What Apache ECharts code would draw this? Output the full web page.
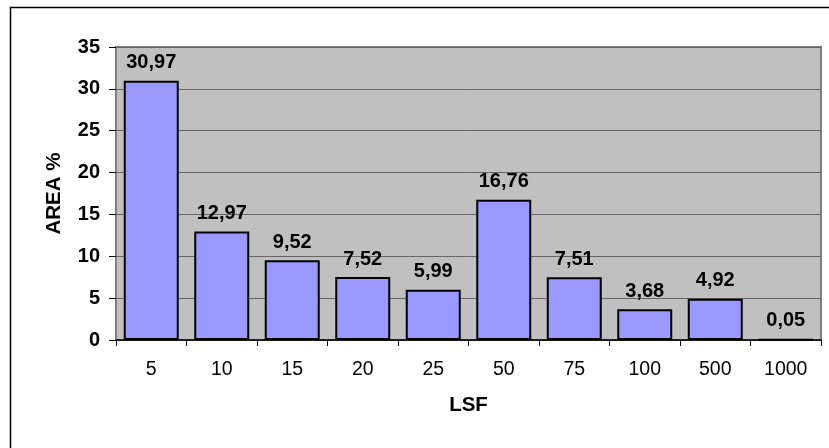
<!DOCTYPE html>
<html>
<head>
<meta charset="utf-8">
<script src="https://cdn.jsdelivr.net/npm/echarts@6/dist/echarts.min.js"></script>
<style>
  html, body { margin: 0; padding: 0; background: #fff; }
  #chart { width: 829px; height: 448px; }
</style>
</head>
<body>
<div id="chart"></div>
<script>
// LSF classes and the share of area (%) in each class
const categories = ['5', '10', '15', '20', '25', '50', '75', '100', '500', '1000'];
const areaPct = [30.97, 12.97, 9.52, 7.52, 5.99, 16.76, 7.51, 3.68, 4.92, 0.05];
const yTicks = { min: 0, max: 35, interval: 5 };

const chart = echarts.init(document.getElementById('chart'), null, { renderer: 'canvas' });

const font = 'Arial, "Liberation Sans", sans-serif';

chart.setOption({
  animation: false,
  backgroundColor: '#ffffff',
  graphic: [{
    type: 'rect',
    shape: { x: 10.5, y: 7.5, width: 1000, height: 1000 },
    style: { fill: 'none', stroke: '#000', lineWidth: 1.5 },
    silent: true
  }],
  grid: {
    left: 116, right: 8, top: 47, bottom: 108,
    show: true,
    backgroundColor: '#C0C0C0',
    borderColor: '#808080',
    borderWidth: 2
  },
  xAxis: {
    type: 'category',
    data: categories,
    name: 'LSF',
    nameLocation: 'middle',
    nameGap: 55,
    nameTextStyle: { fontFamily: font, fontSize: 20.5, fontWeight: 'bold', color: '#000' },
    axisLine: { show: true, lineStyle: { color: '#000', width: 1.5 } },
    axisTick: { show: true, alignWithLabel: false, length: 6, lineStyle: { color: '#000' } },
    axisLabel: { fontFamily: font, fontSize: 19.5, color: '#000', margin: 20 },
    splitLine: { show: false }
  },
  yAxis: {
    type: 'value',
    min: yTicks.min, max: yTicks.max, interval: yTicks.interval,
    name: 'AREA %',
    nameLocation: 'middle',
    nameGap: 51,
    nameRotate: 90,
    nameTextStyle: { fontFamily: font, fontSize: 20.5, fontWeight: 'bold', color: '#000' },
    axisLine: { show: true, lineStyle: { color: '#808080', width: 2 } },
    axisTick: { show: true, length: 7, lineStyle: { color: '#000' } },
    axisLabel: { fontFamily: font, fontSize: 20, fontWeight: 'bold', color: '#000', margin: 16 },
    splitLine: { show: true, lineStyle: { color: '#666', width: 1 } }
  },
  series: [{
    type: 'bar',
    data: areaPct,
    barCategoryGap: '22%',
    itemStyle: { color: '#9999FF', borderColor: '#000', borderWidth: 2 },
    label: {
      show: true,
      position: 'top',
      distance: 8,
      fontFamily: font,
      fontSize: 20,
      fontWeight: 'bold',
      color: '#000',
      formatter: p => p.value.toFixed(2).replace('.', ',')
    }
  }]
});
</script>
</body>
</html>
